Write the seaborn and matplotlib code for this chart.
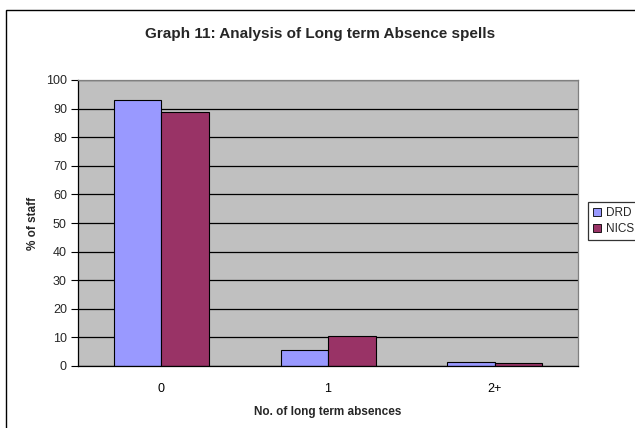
import matplotlib
matplotlib.use("Agg")
import matplotlib.pyplot as plt
import seaborn as sns
import pandas as pd
from matplotlib.lines import Line2D
from matplotlib.patches import Rectangle

categories = ["0", "1", "2+"]
drd = [93.0, 5.7, 1.3]
nics = [88.9, 10.4, 0.9]
series_names = ["DRD", "NICS"]
colors = ["#9999FF", "#993366"]

df = pd.DataFrame({
    "cat": categories * 2,
    "val": drd + nics,
    "series": [series_names[0]] * 3 + [series_names[1]] * 3,
})

sns.set_theme(style="white")
plt.rcParams["font.family"] = ["Liberation Sans", "DejaVu Sans"]

W, H = 635, 428
fig = plt.figure(figsize=(W / 100, H / 100), dpi=100)
fig.patch.set_facecolor("white")

# outer chart border (extends beyond the image on the right/bottom)
fig.patches.append(Rectangle((6 / W, -0.1), 1.0, 1 - 10 / H + 0.1,
                             transform=fig.transFigure, fill=False,
                             edgecolor="black", linewidth=1.0))

ax = fig.add_axes([78 / W, (H - 366) / H, 500 / W, 286 / H])
ax.set_facecolor("#C0C0C0")

sns.barplot(data=df, x="cat", y="val", hue="series", palette=colors,
            width=0.57, edgecolor="black", linewidth=0.8, ax=ax,
            legend=False, saturation=1)

ax.set_ylim(0, 100)
ax.set_xlim(-0.5, 2.5)
ax.set_yticks(range(0, 101, 10))
ax.yaxis.grid(True, color="black", linewidth=0.9)
ax.set_axisbelow(True)

ax.set_xticks([0, 1, 2])
ax.set_xticklabels(categories)
ax.set_xticks([-0.5, 0.5, 1.5, 2.5], minor=True)
ax.tick_params(axis="x", which="major", length=0, pad=12, labelsize=9, colors="black")
ax.tick_params(axis="x", which="minor", length=5, width=0.8, color="black", direction="out")
ax.tick_params(axis="y", length=5, width=0.8, color="black", direction="out",
               labelsize=9, pad=3, left=True)

for s in ["left", "bottom"]:
    ax.spines[s].set_color("black")
    ax.spines[s].set_linewidth(0.9)
for s in ["top", "right"]:
    ax.spines[s].set_color("#808080")
    ax.spines[s].set_linewidth(0.9)

ax.set_xlabel("No. of long term absences", fontsize=8.5, fontweight="bold", labelpad=8)
ax.set_ylabel("% of staff", fontsize=8.5, fontweight="bold", labelpad=5)

fig.text(0.5 * (6 + 635) / W, (H - 34) / H, "Graph 11: Analysis of Long term Absence spells",
         ha="center", va="center", fontsize=11, fontweight="bold")

handles = [Line2D([0], [0], marker="s", linestyle="none", markersize=6,
                  markerfacecolor=c, markeredgecolor="black", markeredgewidth=0.6)
           for c in colors]
leg = fig.legend(handles, series_names, loc="center left",
                 bbox_to_anchor=(588 / W, (H - 221) / H), fontsize=8.5,
                 frameon=True, fancybox=False, handlelength=0.8,
                 handletextpad=0.3, borderpad=0.4, labelspacing=0.4,
                 borderaxespad=0)
leg.get_frame().set_edgecolor("black")
leg.get_frame().set_linewidth(0.9)

fig.savefig("out.png", dpi=100)
